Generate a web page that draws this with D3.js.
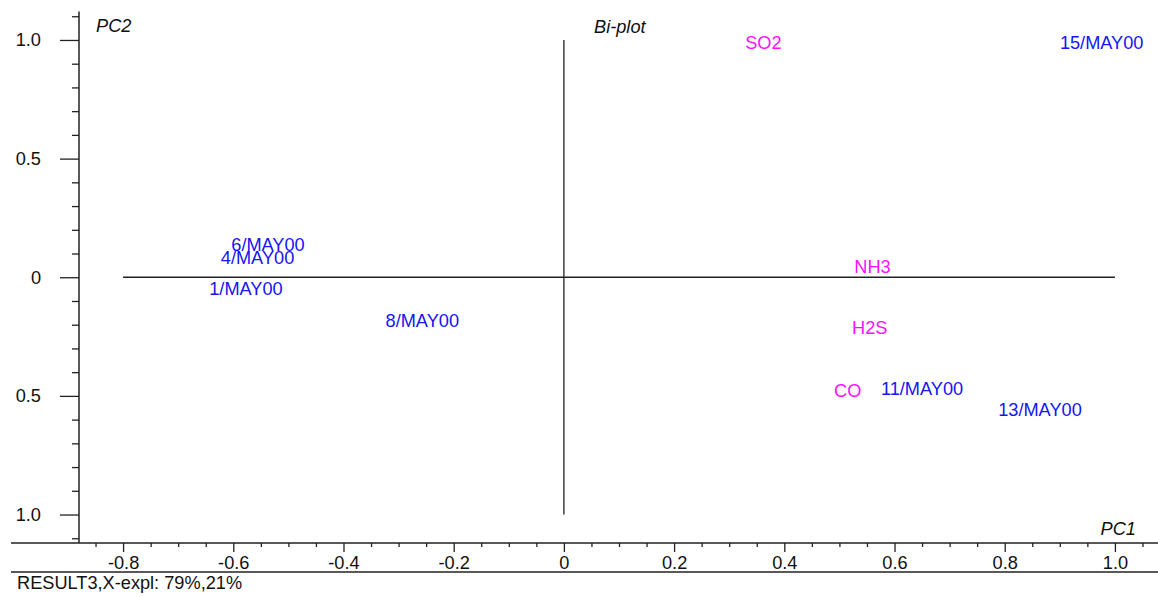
<!DOCTYPE html>
<html>
<head>
<meta charset="utf-8">
<script src="https://cdn.jsdelivr.net/npm/d3@7"></script>
<style>
  html, body { margin: 0; padding: 0; background: #fff; }
  svg { display: block; font-family: "Liberation Sans", Arial, sans-serif; }
</style>
</head>
<body>
<svg id="chart" width="1158" height="597"></svg>
<script>
// Sample scores (blue) and variable loadings (magenta) on PC1 / PC2
const sampleNames = ["1/MAY00", "4/MAY00", "6/MAY00", "8/MAY00", "11/MAY00", "13/MAY00", "15/MAY00"];
const samplePC1   = [-0.577, -0.556, -0.537, -0.257, 0.650, 0.864, 0.976];
const samplePC2   = [-0.048, 0.084, 0.137, -0.181, -0.469, -0.560, 0.990];

const variableNames = ["SO2", "NH3", "H2S", "CO"];
const variablePC1   = [0.362, 0.560, 0.555, 0.515];
const variablePC2   = [0.990, 0.043, -0.211, -0.476];

const xMajorTicks = [-0.8, -0.6, -0.4, -0.2, 0, 0.2, 0.4, 0.6, 0.8, 1.0];
const xTickLabels = ["-0.8", "-0.6", "-0.4", "-0.2", "0", "0.2", "0.4", "0.6", "0.8", "1.0"];
const yMajorTicks = [1.0, 0.5, 0, -0.5, -1.0];
const yTickLabels = ["1.0", "0.5", "0", "0.5", "1.0"];

const svg = d3.select("#chart");
const W = 1158, H = 597;
const FS = 18.2;
const ink = "#222";

const x = d3.scaleLinear().domain([-0.88, 1.08]).range([79, 1159]);
const y = d3.scaleLinear().domain([-1.12, 1.12]).range([543, 11.5]);

// Minor tick values
const xMinor = d3.range(-0.85, 1.0801, 0.05).map(v => +v.toFixed(2))
  .filter(v => !xMajorTicks.some(t => Math.abs(t - v) < 1e-6));
const yMinor = d3.range(-1.1, 1.1001, 0.1).map(v => +v.toFixed(2))
  .filter(v => !yMajorTicks.some(t => Math.abs(t - v) < 1e-6));

// Frame lines under the plot
svg.append("line").attr("x1", 11).attr("x2", W).attr("y1", y.range()[0]).attr("y2", y.range()[0])
  .attr("stroke", ink).attr("stroke-width", 1.5);
svg.append("line").attr("x1", 11).attr("x2", W).attr("y1", 572).attr("y2", 572)
  .attr("stroke", ink).attr("stroke-width", 1.5);
svg.append("line").attr("x1", x.range()[0]).attr("x2", x.range()[0]).attr("y1", y.range()[1]).attr("y2", y.range()[0])
  .attr("stroke", ink).attr("stroke-width", 1.5);

// X axis
const xAxis = svg.append("g").attr("transform", `translate(0,${y.range()[0]})`);
xAxis.call(d3.axisBottom(x).tickValues(xMajorTicks).tickSize(9).tickPadding(4)
  .tickFormat((d, i) => xTickLabels[i]));
xAxis.append("g").call(d3.axisBottom(x).tickValues(xMinor).tickSize(4).tickFormat(""));
xAxis.selectAll(".domain").remove();
xAxis.selectAll("line").attr("stroke", ink).attr("stroke-width", 1.3);
xAxis.selectAll("text").attr("font-size", FS).attr("fill", "#111")
  .attr("font-family", "'Liberation Sans', Arial, sans-serif");

// Y axis
const yAxis = svg.append("g").attr("transform", `translate(${x.range()[0]},0)`);
yAxis.call(d3.axisLeft(y).tickValues(yMajorTicks).tickSize(19).tickPadding(19)
  .tickFormat((d, i) => yTickLabels[i]));
yAxis.append("g").call(d3.axisLeft(y).tickValues(yMinor).tickSize(7).tickFormat(""));
yAxis.selectAll(".domain").remove();
yAxis.selectAll("line").attr("stroke", ink).attr("stroke-width", 1.3);
yAxis.selectAll("text").attr("font-size", FS).attr("fill", "#111")
  .attr("font-family", "'Liberation Sans', Arial, sans-serif");

// Cross-hair through the origin
svg.append("line").attr("x1", x(-0.8)).attr("x2", x(1.0)).attr("y1", y(0)).attr("y2", y(0))
  .attr("stroke", ink).attr("stroke-width", 1.3);
svg.append("line").attr("x1", x(0)).attr("x2", x(0)).attr("y1", y(1.0)).attr("y2", y(-1.0))
  .attr("stroke", ink).attr("stroke-width", 1.3);

// Point labels
function drawLabels(names, px, py, colour) {
  svg.append("g").selectAll("text").data(names).join("text")
    .attr("x", (d, i) => x(px[i]))
    .attr("y", (d, i) => y(py[i]))
    .attr("dy", "0.35em")
    .attr("text-anchor", "middle")
    .attr("font-size", FS)
    .attr("fill", colour)
    .text(d => d);
}
drawLabels(sampleNames, samplePC1, samplePC2, "#1515f5");
drawLabels(variableNames, variablePC1, variablePC2, "#ff10ff");

// Titles
const italic = (tx, ty, str, anchor) => svg.append("text")
  .attr("x", tx).attr("y", ty).attr("font-size", FS).attr("font-style", "italic")
  .attr("fill", "#111").attr("text-anchor", anchor || "start").text(str);
italic(96, 32, "PC2");
italic(594, 33, "Bi-plot");
italic(1136, 535, "PC1", "end");

svg.append("text").attr("x", 17).attr("y", 589).attr("font-size", FS).attr("fill", "#111")
  .text("RESULT3,X-expl: 79%,21%");
</script>
</body>
</html>
